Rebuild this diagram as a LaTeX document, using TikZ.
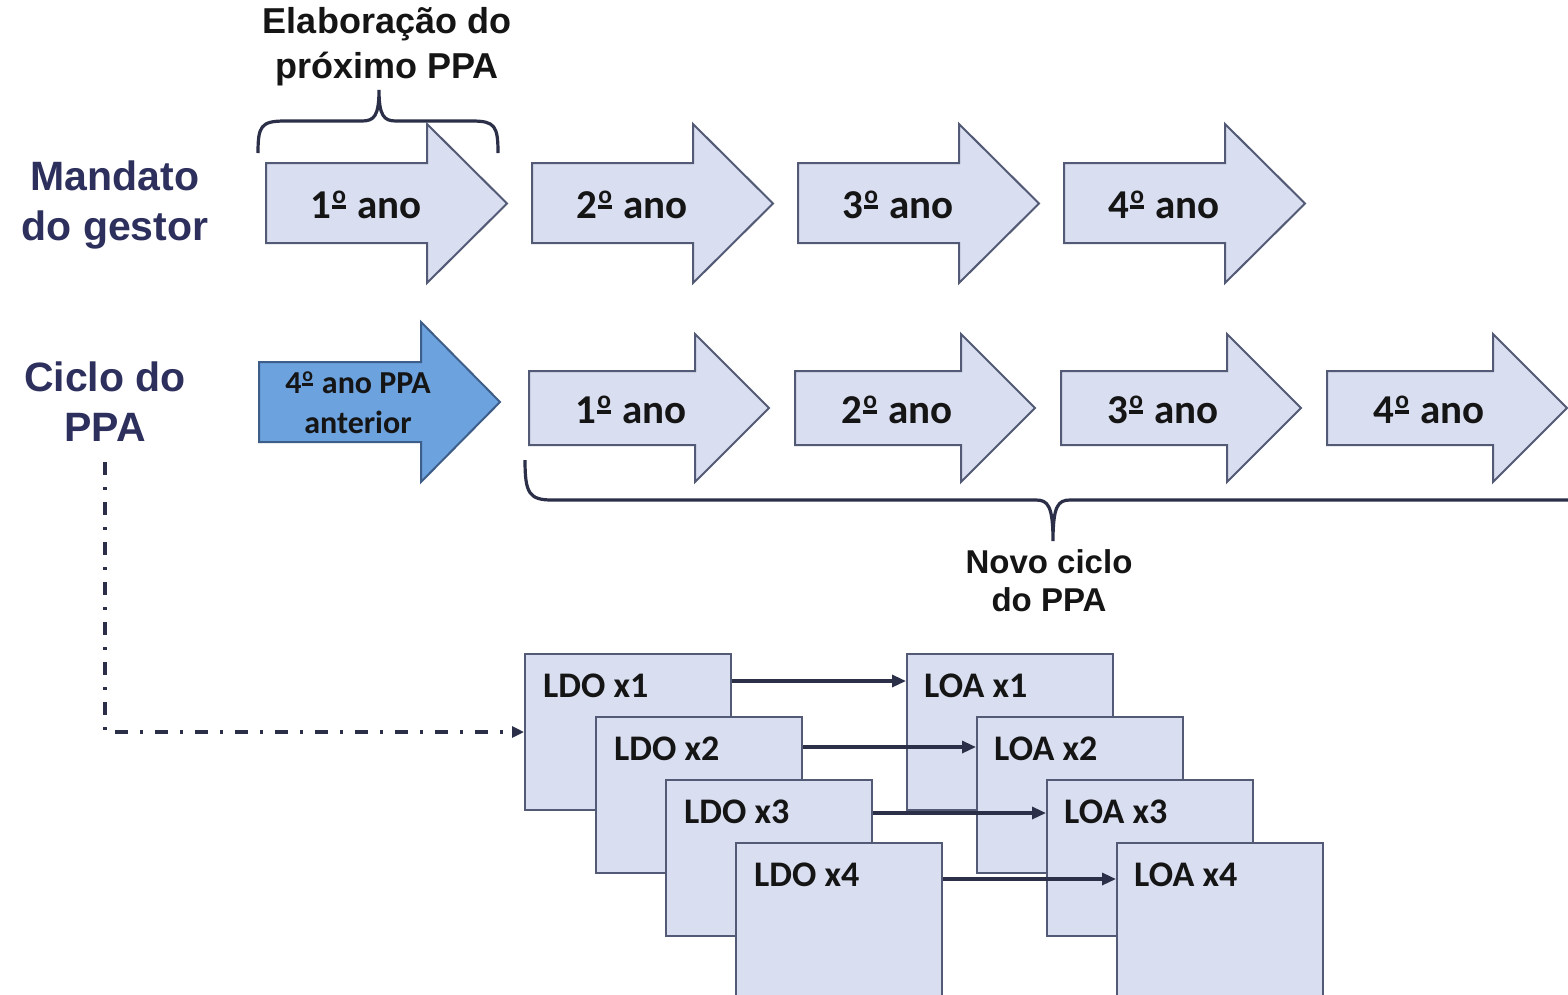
\documentclass[tikz,border=0pt]{standalone}
\usepackage{fontspec}
\usepackage{graphicx}
\setmainfont{Liberation Sans}
\newfontfamily\calfont{Carlito}
\newcommand{\ordm}{\kern0.03em\raisebox{0.25em}{\scalebox{0.62}{\vbox{\hbox{o}\kern0.07em\hrule height 0.13em}}}\kern0.05em}
\usetikzlibrary{arrows.meta}
\definecolor{navy}{HTML}{2D2F5C}
\definecolor{lightfill}{HTML}{D9DEF0}
\definecolor{lightborder}{HTML}{525A75}
\definecolor{darkfill}{HTML}{6CA2DE}
\definecolor{darkborder}{HTML}{3E5E8A}
\definecolor{linecol}{HTML}{2B2F48}
\definecolor{txt}{HTML}{151515}
\tikzset{
  lightarr/.style={draw=lightborder, fill=lightfill, line width=2pt, line join=miter},
  darkarr/.style={draw=darkborder, fill=darkfill, line width=2pt, line join=miter},
  yeartext/.style={font=\calfont\bfseries\fontsize{41}{44}\selectfont, text=txt, inner sep=0pt},
  sidelbl/.style={font=\bfseries\fontsize{41}{50}\selectfont, text=navy, align=center, inner sep=0pt},
  toplbl/.style={font=\bfseries\fontsize{36}{45}\selectfont, text=txt, align=center, inner sep=0pt},
  novolbl/.style={font=\bfseries\fontsize{33}{38}\selectfont, text=txt, align=center, inner sep=0pt},
  docbox/.style={draw=lightborder, fill=lightfill, line width=2pt, minimum width=206pt, minimum height=156pt, anchor=north west, inner sep=0pt},
  boxtext/.style={font=\calfont\bfseries\fontsize{36}{40}\selectfont, text=txt, anchor=west, inner sep=0pt},
  brace/.style={draw=linecol, line width=3.2pt},
  flow/.style={draw=linecol, line width=3.2pt, -{Triangle[length=14pt,width=12pt]}},
}
\begin{document}
\begin{tikzpicture}[x=1pt,y=-1pt]
\useasboundingbox (0,0) rectangle (1568,994);
\clip (0,0) rectangle (1568,994);
\fill[white] (0,0) rectangle (1568,994);

% side labels
\node[sidelbl] (mandato) at (115,205) {Mandato\\do gestor};
\node[sidelbl] (ciclo) at (105,402) {Ciclo do\\PPA};
\node[toplbl] (elab) at (387,47) {Elaboração do\\próximo PPA};

% top brace
\draw[brace] (258,153) .. controls (258,126) and (261,121) .. (285,121) -- (362,121)
  .. controls (374,121) and (379,116) .. (379,90)
  .. controls (379,116) and (384,121) .. (396,121) -- (472,121)
  .. controls (495,121) and (498,126) .. (498,153);

% row 1 : mandato
\foreach \k/\n in {0/1,266/2,532/3,798/4}{
  \begin{scope}[xshift=\k pt]
    \draw[lightarr] (266,163) -- (427,163) -- (427,124) -- (507,203.5) -- (427,283) -- (427,243) -- (266,243) -- cycle;
    \node[yeartext] (m\n) at (366,205) {{\n}\ordm{} ano};
  \end{scope}
}

% row 2 : ciclo do PPA
\draw[darkarr] (259,362) -- (421,362) -- (421,322) -- (500,402) -- (421,482) -- (421,442) -- (259,442) -- cycle;
\node[font=\calfont\bfseries\fontsize{32}{40}\selectfont, text=txt, align=center, inner sep=0pt] (prev) at (358,403) {4\ordm{} ano PPA\\anterior};

\foreach \k/\n in {0/1,266/2,532/3,798/4}{
  \begin{scope}[xshift=\k pt]
    \draw[lightarr] (529,371) -- (695,371) -- (695,334) -- (769,408) -- (695,482) -- (695,445) -- (529,445) -- cycle;
    \node[yeartext] (p\n) at (631,410) {{\n}\ordm{} ano};
  \end{scope}
}

% bottom brace
\draw[brace] (525,460) .. controls (525,493) and (529,500) .. (552,500) -- (1036,500)
  .. controls (1048,500) and (1053,506) .. (1053,541)
  .. controls (1053,506) and (1058,500) .. (1070,500) -- (1600,500);
\node[novolbl] (novo) at (1049,581) {Novo ciclo\\do PPA};

% LDO / LOA boxes
\node[docbox] (ldo1) at (524,653) {};
\node[boxtext] (ldo1t) at ([xshift=19pt,yshift=-33pt]ldo1.north west) {LDO x1};
\node[docbox] (ldo2) at (595,716) {};
\node[boxtext] (ldo2t) at ([xshift=19pt,yshift=-33pt]ldo2.north west) {LDO x2};
\node[docbox] (ldo3) at (665,779) {};
\node[boxtext] (ldo3t) at ([xshift=19pt,yshift=-33pt]ldo3.north west) {LDO x3};
\node[docbox] (ldo4) at (735,842) {};
\node[boxtext] (ldo4t) at ([xshift=19pt,yshift=-33pt]ldo4.north west) {LDO x4};

\node[docbox] (loa1) at (906,653) {};
\node[boxtext] (loa1t) at ([xshift=18pt,yshift=-33pt]loa1.north west) {LOA x1};
\node[docbox] (loa2) at (976,716) {};
\node[boxtext] (loa2t) at ([xshift=18pt,yshift=-33pt]loa2.north west) {LOA x2};
\node[docbox] (loa3) at (1046,779) {};
\node[boxtext] (loa3t) at ([xshift=18pt,yshift=-33pt]loa3.north west) {LOA x3};
\node[docbox] (loa4) at (1116,842) {};
\node[boxtext] (loa4t) at ([xshift=18pt,yshift=-33pt]loa4.north west) {LOA x4};

% connectors
\draw[flow] ([yshift=-28pt]ldo1.north east) -- ([yshift=-28pt]loa1.north west);
\draw[flow] ([yshift=-31pt]ldo2.north east) -- ([yshift=-31pt]loa2.north west);
\draw[flow] ([yshift=-34pt]ldo3.north east) -- ([yshift=-34pt]loa3.north west);
\draw[flow] ([yshift=-37pt]ldo4.north east) -- ([yshift=-37pt]loa4.north west);

% dash-dot connector
\draw[draw=linecol, line width=3.2pt, dash pattern=on 13pt off 12pt on 3pt off 12pt,
  -{Triangle[length=12pt,width=11pt]}] ([yshift=-20pt]ciclo.south) |- (ldo1.west);
\end{tikzpicture}
\end{document}
